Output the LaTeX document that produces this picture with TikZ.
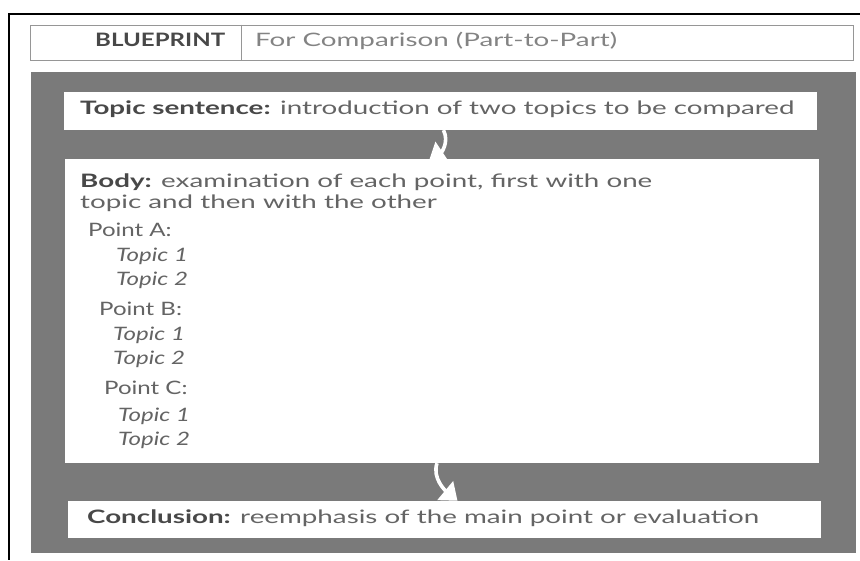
\documentclass[tikz,border=0pt]{standalone}
\usepackage{fontspec}
\setmainfont[FakeStretch=1.3]{Lato}
\newfontfamily\sentfont[FakeStretch=1.5]{Lato}
\usetikzlibrary{arrows.meta}
\definecolor{panelgray}{RGB}{122,122,122}
\definecolor{txtgray}{RGB}{100,100,100}
\definecolor{boldgray}{RGB}{72,72,72}
\definecolor{linegray}{RGB}{150,150,150}
\tikzset{
  whitebox/.style={fill=white, draw=none, inner sep=0pt},
  txt/.style={anchor=west, inner sep=0pt, text=txtgray, text height=13pt, text depth=4pt,
    font=\fontsize{18.5}{21}\selectfont},
  sent/.style={txt, font=\sentfont\fontsize{18.5}{21}\selectfont},
  flowarrow/.style={draw=white, line width=3.6pt,
    -{Triangle[width=24pt,length=16pt,fill=white]}},
}
\begin{document}
\begin{tikzpicture}[x=1pt,y=-1pt]
\fill[white] (0,0) rectangle (860,560);
\useasboundingbox (0,0) rectangle (860,560);
% outer frame
\draw[black, line width=2pt] (860,14) -- (9,14) -- (9,560);
% header
\node[draw=linegray, line width=0.9pt, fill=white, minimum width=823pt, minimum height=35pt, inner sep=0pt] (header) at (441.5,42.5) {};
\draw[linegray, line width=0.9pt] (header.north west -| 241,0) -- (header.south west -| 241,0);
\node[txt, text=boldgray, font=\fontsize{18.5}{21}\selectfont\bfseries] (bp) at (95,42) {BLUEPRINT};
\node[sent, text=txtgray!80] (title) at (255,42) {For Comparison (Part-to-Part)};
% panel
\node[fill=panelgray, draw=none, minimum width=825pt, minimum height=481pt, inner sep=0pt] (panel) at (443.5,312.5) {};
% white boxes
\node[whitebox, minimum width=753pt, minimum height=38pt] (topic) at (440.5,111) {};
\node[whitebox, minimum width=754pt, minimum height=304pt] (body) at (442,311) {};
\node[whitebox, minimum width=753pt, minimum height=37pt] (concl) at (444.5,519.5) {};
% texts
\node[sent] (t1) at (80,110) {\textcolor{boldgray}{\bfseries Topic sentence:} introduction of two topics to be compared};
\node[sent] (b1) at (80,183) {\textcolor{boldgray}{\bfseries Body:} examination of each point, first with one};
\node[sent] (b2) at (80,204) {topic and then with the other};
\node[txt] (pa) at (88,232) {Point A:};
\node[txt] (pa1) at (116,257) {\itshape Topic 1};
\node[txt] (pa2) at (116,281) {\itshape Topic 2};
\node[txt] (pb) at (99,311) {Point B:};
\node[txt] (pb1) at (113,336) {\itshape Topic 1};
\node[txt] (pb2) at (113,360) {\itshape Topic 2};
\node[txt] (pc) at (104,390) {Point C:};
\node[txt] (pc1) at (118,417) {\itshape Topic 1};
\node[txt] (pc2) at (118,441) {\itshape Topic 2};
\node[sent] (c1) at (87,519) {\textcolor{boldgray}{\bfseries Conclusion:} reemphasis of the main point or evaluation};
% arrows
\coordinate (a1s) at ([xshift=3pt]topic.south);
\coordinate (a1e) at ([xshift=-13pt,yshift=-2pt]body.north);
\draw[flowarrow] (a1s) .. controls +(6,12) and +(12,-8) .. (a1e);
\coordinate (a2s) at ([xshift=-5pt]body.south);
\coordinate (a2e) at ([xshift=13pt]concl.north);
\draw[flowarrow] (a2s) .. controls +(-5,15) and +(-12,-10) .. (a2e);
\end{tikzpicture}
\end{document}
